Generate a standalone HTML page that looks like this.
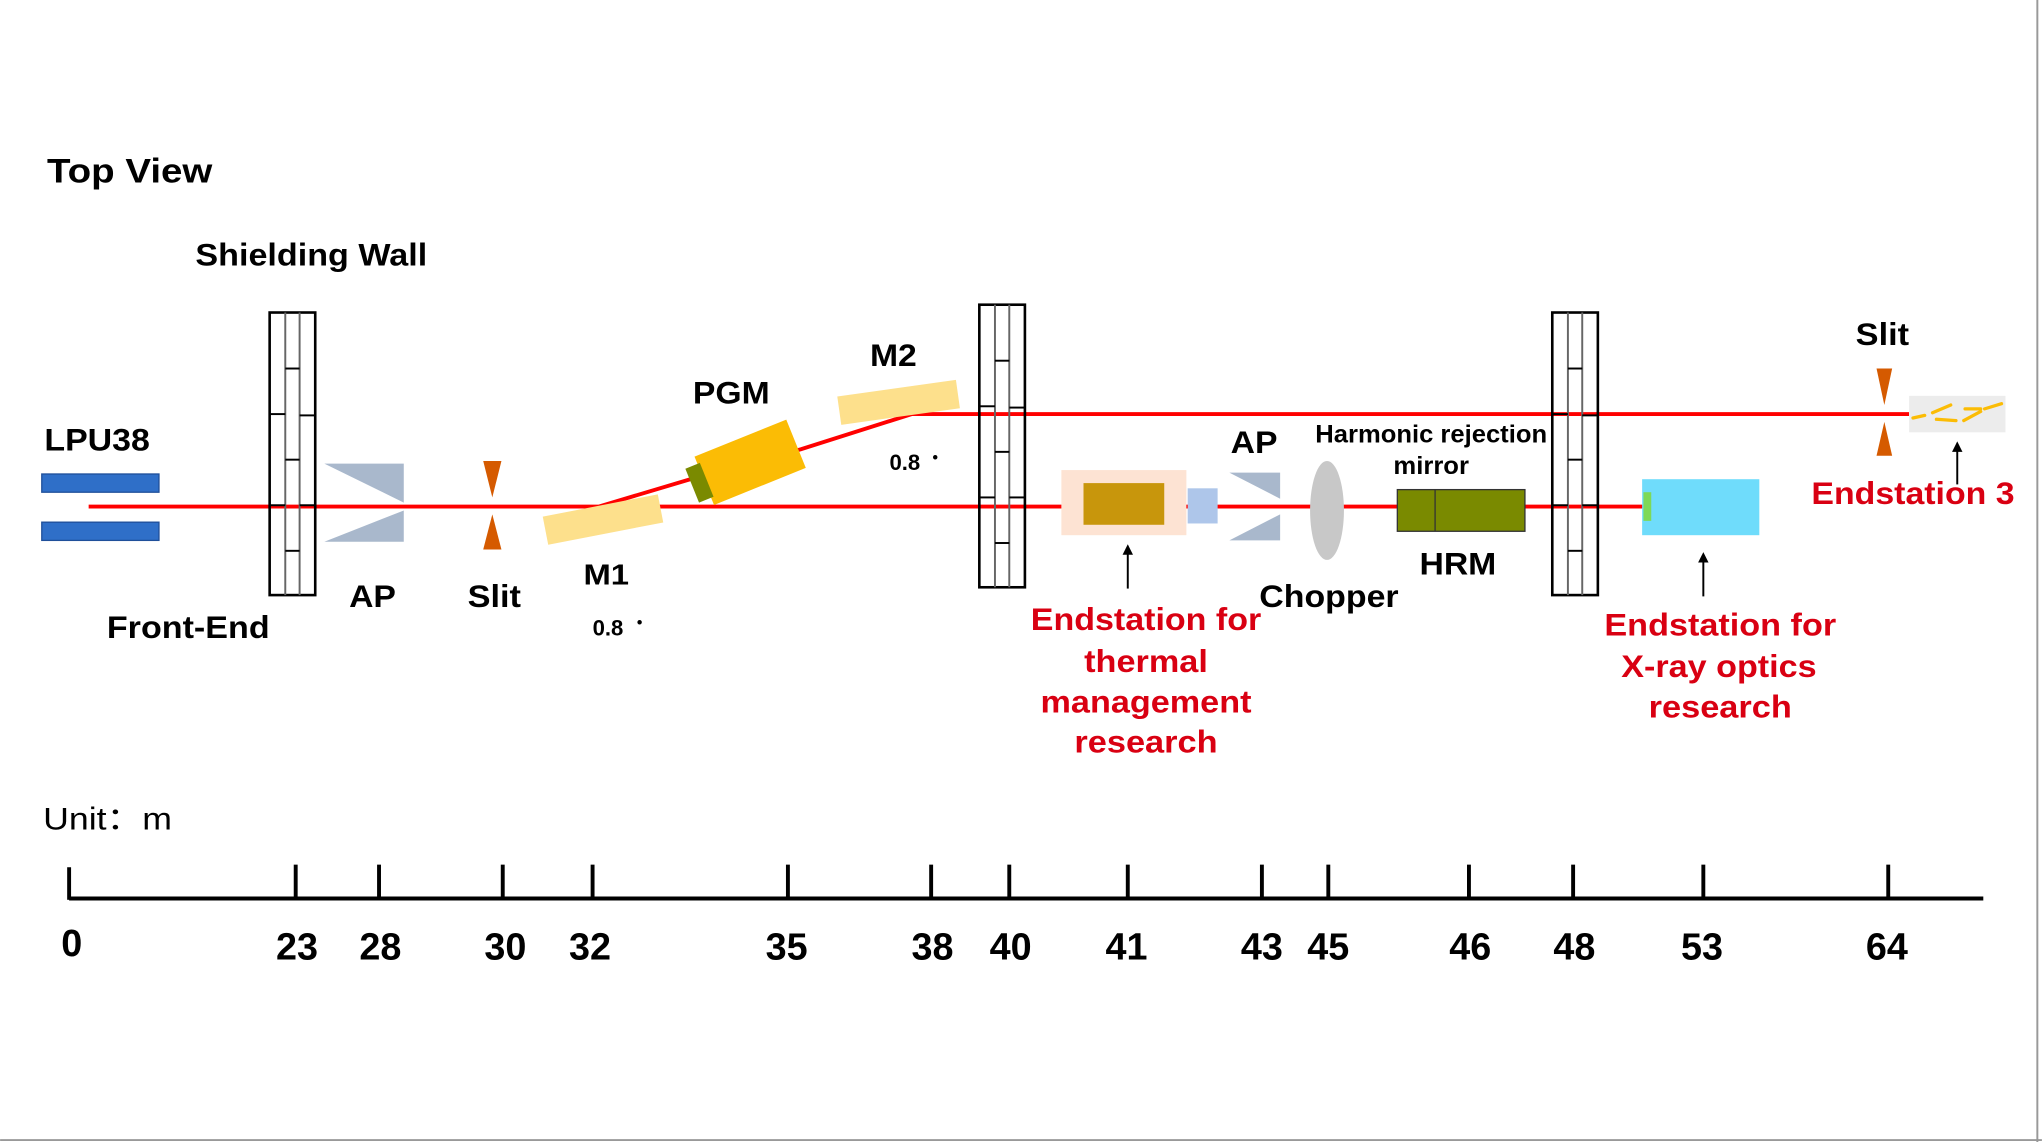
<!DOCTYPE html>
<html><head><meta charset="utf-8"><style>
html,body{margin:0;padding:0;background:#fff}
svg{display:block}
text{font-family:"Liberation Sans",Arial,sans-serif}
.b{font-weight:bold;fill:#000}
.r{font-weight:bold;fill:#d90012}
</style></head><body>
<svg width="2042" height="1142" viewBox="0 0 1568 877" xmlns="http://www.w3.org/2000/svg">
<rect width="1568" height="877" fill="#fff"/>
<line x1="1564.5" y1="0" x2="1564.5" y2="877" stroke="#999" stroke-width="1.5"/>
<line x1="0" y1="875.5" x2="1568" y2="875.5" stroke="#999" stroke-width="1.5"/>

<text x="36" y="140" class="b" font-size="26" textLength="127" lengthAdjust="spacingAndGlyphs">Top View</text>
<text x="150" y="204" class="b" font-size="24" textLength="178" lengthAdjust="spacingAndGlyphs">Shielding Wall</text>

<line x1="68" y1="389" x2="1262" y2="389" stroke="#ff0000" stroke-width="3"/>
<polyline points="460,389 530,368 615,345 700,318 1466,318" fill="none" stroke="#ff0000" stroke-width="3"/>

<g id="w1" fill="none" stroke="#000">
<rect x="207" y="240" width="35" height="217" stroke-width="2"/>
<line x1="219" y1="240" x2="219" y2="457" stroke="#666" stroke-width="1.5"/>
<line x1="230" y1="240" x2="230" y2="457" stroke="#666" stroke-width="1.5"/>
<line x1="219" y1="283" x2="230" y2="283" stroke-width="1.5"/>
<line x1="207" y1="318" x2="219" y2="318" stroke-width="1.5"/>
<line x1="230" y1="319" x2="242" y2="319" stroke-width="1.5"/>
<line x1="219" y1="353" x2="230" y2="353" stroke-width="1.5"/>
<line x1="207" y1="388" x2="219" y2="388" stroke-width="1.5"/>
<line x1="230" y1="388" x2="242" y2="388" stroke-width="1.5"/>
<line x1="219" y1="423" x2="230" y2="423" stroke-width="1.5"/>
</g>
<use href="#w1" transform="translate(545,-6)"/>
<use href="#w1" transform="translate(985,0)"/>

<rect x="32" y="364" width="90" height="14" fill="#2f6fc8" stroke="#1f4f9a"/>
<rect x="32" y="401" width="90" height="14" fill="#2f6fc8" stroke="#1f4f9a"/>
<text x="34" y="346" class="b" font-size="24" textLength="81" lengthAdjust="spacingAndGlyphs">LPU38</text>
<text x="82" y="490" class="b" font-size="24" textLength="125" lengthAdjust="spacingAndGlyphs">Front-End</text>

<polygon points="249,356 310,356 310,386" fill="#a9b8cc"/>
<polygon points="249,416 310,416 310,392" fill="#a9b8cc"/>
<text x="268" y="466" class="b" font-size="24" textLength="36" lengthAdjust="spacingAndGlyphs">AP</text>

<polygon points="371,354 385,354 378,382" fill="#d55a00"/>
<polygon points="371,422 385,422 378,395" fill="#d55a00"/>
<text x="359" y="466" class="b" font-size="24" textLength="41" lengthAdjust="spacingAndGlyphs">Slit</text>

<rect x="-45" y="-11" width="90" height="22" fill="#fde08c" transform="translate(463,399) rotate(-11)"/>
<text x="448" y="449" class="b" font-size="22" textLength="35" lengthAdjust="spacingAndGlyphs">M1</text>
<text x="455" y="488" class="b" font-size="17">0.8</text><text x="489" y="482" class="b" font-size="12">•</text>

<g transform="translate(576,355) rotate(-22)">
<rect x="-38" y="-20" width="76" height="40" fill="#fbbc05"/>
<rect x="-48" y="-14" width="12" height="28" fill="#7a8a00"/>
</g>
<text x="532" y="310" class="b" font-size="24" textLength="59" lengthAdjust="spacingAndGlyphs">PGM</text>

<rect x="-46" y="-11" width="92" height="22" fill="#fde08c" transform="translate(690,309) rotate(-8)"/>
<text x="668" y="281" class="b" font-size="24" textLength="36" lengthAdjust="spacingAndGlyphs">M2</text>
<text x="683" y="361" class="b" font-size="17">0.8</text><text x="716" y="355" class="b" font-size="12">•</text>

<rect x="815" y="361" width="96" height="50" fill="#fde3d3"/>
<rect x="832" y="371" width="62" height="32" fill="#c8960c"/>
<rect x="912" y="375" width="23" height="27" fill="#aec6ea"/>
<line x1="866" y1="452" x2="866" y2="424" stroke="#000" stroke-width="1.5"/>
<polygon points="862,426 870,426 866,418" fill="#000"/>
<g class="r" font-size="24" text-anchor="middle">
<text x="880" y="484" textLength="177" lengthAdjust="spacingAndGlyphs">Endstation for</text>
<text x="880" y="516" textLength="95" lengthAdjust="spacingAndGlyphs">thermal</text>
<text x="880" y="547" textLength="162" lengthAdjust="spacingAndGlyphs">management</text>
<text x="880" y="578" textLength="110" lengthAdjust="spacingAndGlyphs">research</text>
</g>

<polygon points="944,363 983,363 983,383" fill="#a9b8cc"/>
<polygon points="944,415 983,415 983,395" fill="#a9b8cc"/>
<text x="945" y="348" class="b" font-size="24" textLength="36" lengthAdjust="spacingAndGlyphs">AP</text>

<ellipse cx="1019" cy="392" rx="13" ry="38" fill="#c8c8c8"/>
<text x="967" y="466" class="b" font-size="24" textLength="107" lengthAdjust="spacingAndGlyphs">Chopper</text>

<text x="1099" y="340" class="b" font-size="19" text-anchor="middle" textLength="178" lengthAdjust="spacingAndGlyphs">Harmonic rejection</text>
<text x="1099" y="364" class="b" font-size="19" text-anchor="middle" textLength="58" lengthAdjust="spacingAndGlyphs">mirror</text>
<rect x="1073" y="376" width="98" height="32" fill="#7a8a00" stroke="#333" stroke-width="1"/>
<line x1="1102" y1="376" x2="1102" y2="408" stroke="#333" stroke-width="1"/>
<text x="1090" y="441" class="b" font-size="24" textLength="59" lengthAdjust="spacingAndGlyphs">HRM</text>

<rect x="1261" y="368" width="90" height="43" fill="#6fdcfb"/>
<rect x="1262" y="378" width="6" height="22" fill="#7ed957"/>
<line x1="1308" y1="458" x2="1308" y2="430" stroke="#000" stroke-width="1.5"/>
<polygon points="1304,432 1312,432 1308,424" fill="#000"/>
<g class="r" font-size="24" text-anchor="middle">
<text x="1321" y="488" textLength="178" lengthAdjust="spacingAndGlyphs">Endstation for</text>
<text x="1320" y="520" textLength="150" lengthAdjust="spacingAndGlyphs">X-ray optics</text>
<text x="1321" y="551" textLength="110" lengthAdjust="spacingAndGlyphs">research</text>
</g>

<polygon points="1441,283 1453,283 1447,311" fill="#d55a00"/>
<polygon points="1441,350 1453,350 1447,324" fill="#d55a00"/>
<text x="1425" y="265" class="b" font-size="24" textLength="41" lengthAdjust="spacingAndGlyphs">Slit</text>
<rect x="1466" y="304" width="74" height="28" fill="#ececec"/>
<g stroke="#fbbc05" stroke-width="2.5" stroke-linecap="round">
<line x1="1469" y1="321" x2="1478" y2="319"/>
<line x1="1484" y1="317" x2="1498" y2="311"/>
<line x1="1487" y1="322" x2="1502" y2="323"/>
<line x1="1509" y1="314" x2="1521" y2="314"/>
<line x1="1508" y1="323" x2="1521" y2="316"/>
<line x1="1524" y1="314" x2="1537" y2="310"/>
</g>
<line x1="1503" y1="372" x2="1503" y2="345" stroke="#000" stroke-width="1.5"/>
<polygon points="1499,347 1507,347 1503,339" fill="#000"/>
<text x="1391" y="387" class="r" font-size="24" textLength="156" lengthAdjust="spacingAndGlyphs">Endstation 3</text>

<text x="33" y="637" font-size="24" fill="#000" textLength="99" lengthAdjust="spacingAndGlyphs">Unit：m</text>
<line x1="53" y1="690" x2="1523" y2="690" stroke="#000" stroke-width="3"/>
<g stroke="#000" stroke-width="3">
<line x1="53" y1="666" x2="53" y2="691"/>
<line x1="227" y1="664" x2="227" y2="691"/>
<line x1="291" y1="664" x2="291" y2="691"/>
<line x1="386" y1="664" x2="386" y2="691"/>
<line x1="455" y1="664" x2="455" y2="691"/>
<line x1="605" y1="664" x2="605" y2="691"/>
<line x1="715" y1="664" x2="715" y2="691"/>
<line x1="775" y1="664" x2="775" y2="691"/>
<line x1="866" y1="664" x2="866" y2="691"/>
<line x1="969" y1="664" x2="969" y2="691"/>
<line x1="1020" y1="664" x2="1020" y2="691"/>
<line x1="1128" y1="664" x2="1128" y2="691"/>
<line x1="1208" y1="664" x2="1208" y2="691"/>
<line x1="1308" y1="664" x2="1308" y2="691"/>
<line x1="1450" y1="664" x2="1450" y2="691"/>
</g>
<g font-size="29" fill="#000" text-anchor="middle" font-weight="bold">
<text x="55" y="734">0</text>
<text x="228" y="737">23</text>
<text x="292" y="737">28</text>
<text x="388" y="737">30</text>
<text x="453" y="737">32</text>
<text x="604" y="737">35</text>
<text x="716" y="737">38</text>
<text x="776" y="737">40</text>
<text x="865" y="737">41</text>
<text x="969" y="737">43</text>
<text x="1020" y="737">45</text>
<text x="1129" y="737">46</text>
<text x="1209" y="737">48</text>
<text x="1307" y="737">53</text>
<text x="1449" y="737">64</text>
</g>
</svg>
</body></html>
